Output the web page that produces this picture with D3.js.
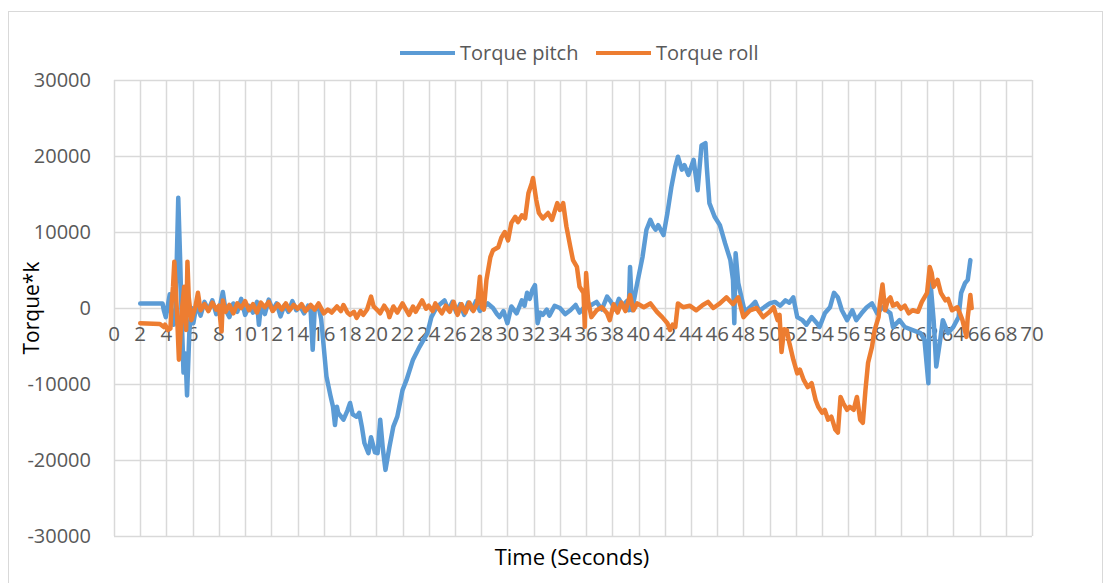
<!DOCTYPE html>
<html>
<head>
<meta charset="utf-8">
<script src="https://cdn.jsdelivr.net/npm/d3@7"></script>
<style>
  body { margin: 0; background: #fff; }
  text { font-family: "Open Sans", sans-serif; fill: #595959; }
</style>
</head>
<body>
<div id="chart"></div>
<script>
// Series names
const seriesNames = ['Torque pitch', 'Torque roll'];
const seriesColors = ['#5b9bd5', '#ed7d31'];

// Tick values
const xTicks = d3.range(0, 71, 2);
const yTicks = [-30000, -20000, -10000, 0, 10000, 20000, 30000];

// Torque pitch: [time (s), torque*k]
const pitch = [
  [2,600],[3.7,600],[3.8,-300],[3.95,-1200],[4.1,300],[4.25,1800],[4.4,-1500],[4.55,-2200],[4.7,0],
  [4.9,14500],[5.05,6000],[5.15,-500],[5.3,-8500],[5.45,-6000],[5.57,-11500],[5.75,-3000],[5.9,0],
  [6.05,-2000],[6.3,500],[6.6,-1000],[6.9,800],[7.2,-300],[7.5,1000],[7.8,-800],[8.1,400],[8.3,2100],
  [8.5,-200],[8.8,-1200],[9.1,600],[9.4,-500],[9.7,1200],[10,-900],[10.3,300],[10.6,-600],[10.9,800],
  [11.05,-2200],[11.2,200],[11.5,-800],[11.8,1100],[12.1,-300],[12.4,600],[12.7,-1100],[13,400],
  [13.3,-500],[13.6,900],[13.9,-300],[14.2,200],[14.5,-700],[14.8,300],[15.0,-500],[15.15,-5500],
  [15.3,-300],[15.6,200],[15.8,-1500],[16.2,-9000],[16.5,-11500],[16.7,-13000],[16.85,-15400],
  [17.0,-13000],[17.1,-13800],[17.5,-14700],[17.8,-13500],[18,-12500],[18.2,-14000],[18.5,-14300],
  [18.7,-13800],[18.9,-15600],[19.1,-17800],[19.4,-19100],[19.6,-17000],[19.9,-19000],[20.1,-19100],
  [20.3,-14700],[20.5,-18500],[20.7,-21300],[21,-18300],[21.3,-15600],[21.6,-14300],[22,-10800],
  [22.3,-9500],[22.8,-6800],[23.3,-5100],[23.9,-3300],[24.2,-1200],[24.6,100],[25.2,1000],[25.5,-300],
  [25.8,800],[26.1,-600],[26.4,500],[26.7,-900],[27,700],[27.3,-200],[27.6,900],[27.9,-400],[28.1,0],
  [28.5,600],[28.9,0],[29.2,-800],[29.4,-1200],[29.7,-400],[30,-2000],[30.3,200],[30.7,-700],
  [31.1,1000],[31.3,300],[31.5,2000],[31.7,1200],[31.9,2400],[32.1,3000],[32.3,-2000],[32.5,-600],
  [32.7,-900],[33,-200],[33.2,-1000],[33.6,300],[34,0],[34.4,-800],[34.8,-300],[35.2,400],[35.5,-600],
  [35.9,200],[36.3,300],[36.8,800],[37.2,-200],[37.6,1500],
  [37.9,800],[38.2,-200],[38.5,1200],[38.8,300],[39.1,900],[39.25,-300],[39.35,5400],[39.5,-300],
  [39.9,3300],[40.3,6700],[40.6,10300],[40.9,11600],[41.1,10800],[41.3,10300],[41.5,10900],
  [41.9,9600],[42.2,12500],[42.5,15900],[42.8,18600],[43,19900],[43.3,18200],[43.5,18800],
  [43.8,17500],[44.2,19500],[44.5,15500],[44.8,21400],[45.1,21700],[45.2,18600],[45.4,13800],
  [45.8,12000],[46.2,10900],[46.6,8500],[47,6300],[47.2,3700],[47.3,-2000],[47.4,7200],[47.6,3300],
  [47.9,1000],[48.1,-500],[48.5,100],[48.9,800],[49.2,-400],[49.5,0],[50,600],[50.4,800],[50.8,300],
  [51.2,1000],[51.5,700],[51.8,1400],[52.1,-1200],[52.5,-1600],[52.8,-2200],[53.2,-1200],[53.6,-2000],
  [53.8,-2500],[54.2,-700],[54.6,100],[54.9,2000],[55.2,1400],[55.5,-300],[55.9,-1600],[56.3,-300],
  [56.6,-1600],[57,-700],[57.4,100],[57.8,600],[58.2,-700],[58.6,100],[58.9,-300],[59.2,-700],
  [59.4,-2500],[59.9,-1600],[60.3,-2500],[60.9,-2900],[61.5,-3300],[61.8,-4200],[62.1,-9900],
  [62.2,4600],[62.5,-1600],[62.7,-7700],[63,-4200],[63.2,-1600],[63.6,-3300],[64,-2500],[64.4,-1200],
  [64.6,2000],[64.9,3300],[65.1,3700],[65.3,6300]
];

// Torque roll: [time (s), torque*k]
const roll = [
  [2,-2000],[3.5,-2100],[3.8,-2500],[3.9,-2200],[4.1,-2900],[4.3,-2700],[4.4,700],[4.5,2800],
  [4.6,6100],[4.8,-500],[4.95,-6800],[5.2,100],[5.35,2800],[5.5,-2900],[5.6,6100],[5.7,1400],
  [5.9,-1600],[6.2,100],[6.4,2000],[6.6,-300],[6.9,500],[7.2,-400],[7.5,700],[7.8,-200],[8.0,300],
  [8.2,-3100],[8.3,1000],[8.5,-500],[8.8,400],[9.1,-700],[9.4,600],[9.7,0],[10,900],[10.3,-300],
  [10.6,500],[10.9,-600],[11.2,700],[11.5,100],[11.8,800],[12.1,-400],[12.5,500],[12.8,-200],
  [13.1,600],[13.4,-300],[13.7,400],[14,-100],[14.3,500],[14.6,-400],[15,400],[15.3,-200],[15.6,600],
  [16,-700],[16.3,-200],[16.6,-600],[17,200],[17.3,-400],[17.5,400],[17.8,-600],[18,-900],[18.3,-500],
  [18.5,-1300],[18.8,-400],[19,-900],[19.3,-200],[19.6,1500],[19.8,200],[20.1,-300],[20.3,-700],
  [20.6,300],[20.9,-500],[21,-1200],[21.3,200],[21.6,-600],[22,600],[22.3,-300],[22.5,-900],
  [22.8,200],[23,-500],[23.3,400],[23.5,1000],[23.8,-100],[24,300],[24.3,-400],[24.5,600],
  [24.8,-200],[25,-700],[25.3,300],[25.6,-500],[25.9,800],[26.2,-900],[26.5,500],[26.8,-600],
  [27.1,700],[27.4,-400],[27.7,600],[27.9,4100],[28.05,100],[28.2,-200],[28.4,3700],[28.7,6700],
  [28.9,7600],[29.3,8000],[29.55,9300],[29.8,10000],[30.05,8900],[30.3,11200],[30.6,12000],
  [30.8,11300],[31.1,12200],[31.35,11800],[31.6,15100],[31.85,16400],[31.95,17100],[32.2,14200],
  [32.4,12500],[32.7,11800],[33.1,12500],[33.4,11600],[33.8,13800],[34,12900],[34.25,13800],
  [34.5,10700],[34.8,8000],[35,6300],[35.3,5400],[35.5,2800],[35.8,2000],[35.9,-2500],[36,4600],
  [36.15,1000],[36.4,-1200],[36.8,-300],[37.2,100],[37.6,-700],[37.8,-1600],[38.1,500],[38.4,-600],
  [38.7,700],[39,-400],[39.35,1700],[39.6,-300],[39.9,600],[40.4,100],[40.9,600],[41.4,-500],
  [41.8,-1200],[42.2,-2000],[42.4,-2900],[42.6,-2200],[42.8,-2500],[43,600],[43.4,100],[43.9,300],
  [44.4,-300],[44.9,400],[45.3,800],[45.7,0],[46.2,600],[46.7,1400],[47.2,500],[47.6,1400],
  [48,-1200],[48.5,-300],[49,0],[49.5,-1200],[50,-500],[50.3,100],[50.6,-1600],[50.75,-900],
  [50.9,-5800],[51.1,-2800],[51.3,-2900],[51.5,-4600],[51.8,-6800],[52.1,-8600],[52.3,-8100],
  [52.6,-9500],[52.9,-10400],[53.2,-9900],[53.5,-12100],[53.7,-13000],[54,-13800],[54.2,-13400],
  [54.45,-14700],[54.7,-14300],[55,-16000],[55.2,-16400],[55.4,-11700],[55.6,-12500],[55.9,-13400],
  [56.1,-13000],[56.4,-13400],[56.65,-11700],[56.9,-14700],[57.1,-15100],[57.3,-10800],[57.5,-7200],
  [57.8,-5100],[58,-2900],[58.3,-1200],[58.4,600],[58.6,3100],[58.8,-300],[59,1000],[59.2,1400],
  [59.4,300],[59.7,600],[60,-100],[60.3,300],[60.6,-700],[60.9,-300],[61.3,-500],[61.6,800],
  [62,2000],[62.2,5400],[62.35,4600],[62.5,2800],[62.8,3700],[63.05,2000],[63.4,1000],[63.6,1200],
  [63.9,-300],[64.3,100],[64.5,-700],[64.7,-1600],[65,-3800],[65.1,-1200],[65.3,1700],[65.4,0]
];

// Setting up the svg
const width = 1111;
const height = 583;

// Plot area
const plot = { left: 114, right: 1032, top: 80, bottom: 536 };

const svg = d3.select('#chart').append('svg')
    .attr('width', width)
    .attr('height', height);

// Chart border
svg.append('rect')
    .attr('x', 8.5)
    .attr('y', 11.5)
    .attr('width', 1094)
    .attr('height', 590)
    .attr('fill', 'none')
    .attr('stroke', '#d9d9d9');

// Scales
const x = d3.scaleLinear().domain([0, 70]).range([plot.left, plot.right]);
const y = d3.scaleLinear().domain([-30000, 30000]).range([plot.bottom, plot.top]);

// Gridlines
svg.append('g')
    .selectAll('line')
    .data(xTicks)
    .enter().append('line')
    .attr('x1', d => Math.round(x(d)) + 0.5)
    .attr('x2', d => Math.round(x(d)) + 0.5)
    .attr('y1', plot.top)
    .attr('y2', plot.bottom)
    .attr('stroke', '#d9d9d9')
    .attr('stroke-width', 1.5);

svg.append('g')
    .selectAll('line')
    .data(yTicks)
    .enter().append('line')
    .attr('x1', plot.left)
    .attr('x2', plot.right)
    .attr('y1', d => Math.round(y(d)) + 0.5)
    .attr('y2', d => Math.round(y(d)) + 0.5)
    .attr('stroke', '#d9d9d9')
    .attr('stroke-width', 1.5);

// Y tick labels
svg.append('g')
    .selectAll('text')
    .data(yTicks)
    .enter().append('text')
    .attr('x', 91)
    .attr('y', d => y(d))
    .attr('dy', '0.35em')
    .attr('text-anchor', 'end')
    .style('font-size', '20px')
    .text(d => d);

// X tick labels (drawn along the zero line)
svg.append('g')
    .selectAll('text')
    .data(xTicks)
    .enter().append('text')
    .attr('x', d => x(d))
    .attr('y', y(0) + 33)
    .attr('text-anchor', 'middle')
    .style('font-size', '20.5px')
    .text(d => d);

// Lines
const line = d3.line()
    .x(d => x(d[0]))
    .y(d => y(d[1]));

[pitch, roll].forEach((data, i) => {
    svg.append('path')
        .datum(data)
        .attr('d', line)
        .attr('fill', 'none')
        .attr('stroke', seriesColors[i])
        .attr('stroke-width', 4.5)
        .attr('stroke-linejoin', 'round')
        .attr('stroke-linecap', 'round');
});

// Legend
const legendX = [400, 596];
seriesNames.forEach((name, i) => {
    svg.append('line')
        .attr('x1', legendX[i])
        .attr('x2', legendX[i] + 55)
        .attr('y1', 53)
        .attr('y2', 53)
        .attr('stroke', seriesColors[i])
        .attr('stroke-width', 4);
    svg.append('text')
        .attr('x', legendX[i] + 60)
        .attr('y', 53)
        .attr('dy', '0.35em')
        .style('font-size', '20px')
        .text(name);
});

// Axis titles
svg.append('text')
    .attr('transform', 'translate(32,308) rotate(-90)')
    .attr('text-anchor', 'middle')
    .attr('dy', '0.35em')
    .style('font-size', '21px')
    .style('fill', '#000')
    .text('Torque*k');

svg.append('text')
    .attr('x', 572)
    .attr('y', 557)
    .attr('dy', '0.35em')
    .attr('text-anchor', 'middle')
    .style('font-size', '22px')
    .style('fill', '#000')
    .text('Time (Seconds)');
</script>
</body>
</html>
